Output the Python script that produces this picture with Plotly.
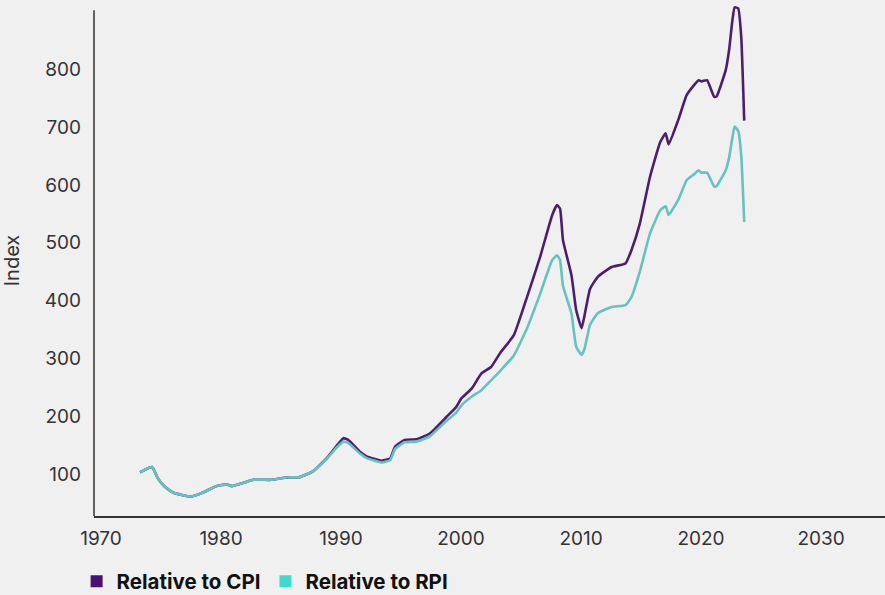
import plotly.graph_objects as go

years = [1973.25, 1974.25, 1974.75, 1975.33, 1976.0, 1977.5, 1978.5, 1979.6, 1980.5, 1980.9,
         1981.75, 1982.7, 1984.2, 1985.5, 1986.6, 1987.7, 1988.8, 1989.6, 1990.2, 1990.6,
         1991.6, 1992.1, 1993.4, 1994.1, 1994.5, 1995.3, 1996.3, 1997.4, 1998.8, 1999.6,
         2000.0, 2000.9, 2001.7, 2002.5, 2003.25, 2004.4, 2005.5, 2006.6, 2007.6, 2008.0,
         2008.25, 2008.5, 2009.2, 2009.6, 2010.05, 2010.3, 2010.75, 2011.4, 2012.55, 2013.7,
         2014.2, 2014.9, 2015.75, 2016.6, 2017.05, 2017.3, 2018.1, 2018.8, 2019.4, 2019.8,
         2020.05, 2020.5, 2021.1, 2021.3, 2022.05, 2022.35, 2022.6, 2022.8, 2023.1, 2023.35,
         2023.6]

cpi = [103, 112, 92, 78, 68, 61, 68, 79, 82, 79,
       84, 90, 90, 94, 95, 105, 127, 148, 162, 159,
       138, 131, 123, 127, 147, 159, 160, 170, 199, 216,
       230, 248, 274, 285, 309, 340, 406, 476, 548, 565,
       559, 504, 444, 383, 352, 375, 420, 441, 458, 464,
       487, 533, 614, 674, 689, 670, 712, 755, 772, 781,
       779, 781, 752, 753, 798, 835, 882, 907, 905, 856,
       711]

rpi = [103, 112, 92, 78, 68, 61, 68, 79, 82, 79,
       84, 90, 90, 94, 95, 105, 126, 145, 156, 154,
       135, 128, 120, 124, 143, 155, 156, 165, 192, 206,
       218, 234, 245, 262, 278, 305, 352, 412, 470, 478,
       470, 425, 378, 320, 306, 317, 358, 378, 389, 392,
       406, 450, 516, 556, 563, 548, 574, 608, 618, 625,
       621, 621, 597, 598, 625, 648, 680, 701, 693, 651,
       536]

series_names = ["Relative to CPI", "Relative to RPI"]
line_colors = ["#4A1F6E", "#66C2BE"]
legend_colors = ["#4B0F78", "#3DDBC9"]
x_ticks = [1970, 1980, 1990, 2000, 2010, 2020, 2030]
y_ticks = [100, 200, 300, 400, 500, 600, 700, 800]

fig = go.Figure()
for vals, name, col in zip([cpi, rpi], series_names, line_colors):
    fig.add_trace(go.Scatter(x=years, y=vals, mode="lines", name=name,
                             line=dict(color=col, width=2.6, shape="spline", smoothing=0.4),
                             showlegend=False))
for name, col in zip(series_names, legend_colors):
    fig.add_trace(go.Scatter(x=[None], y=[None], mode="markers", name=name,
                             marker=dict(symbol="square", size=12, color=col)))

y_lo, y_hi_axis, y_hi = 27.4, 902, 911

fig.add_shape(type="line", xref="paper", yref="y", x0=0, x1=0, y0=y_lo, y1=y_hi_axis,
              line=dict(color="#333333", width=1.5))

fig.update_layout(
    width=885, height=595,
    paper_bgcolor="#F0F0F0", plot_bgcolor="#F0F0F0",
    margin=dict(l=94, r=0, t=5, b=79, autoexpand=False),
    font=dict(family="Inter, Lato, sans-serif", size=19, color="#333333"),
    xaxis=dict(range=[1969.417, 2035.33], tickvals=x_ticks, showgrid=False, zeroline=False,
               showline=True, linecolor="#333333", linewidth=1.5, ticks="",
               ticklabelstandoff=4, tickfont=dict(size=19, color="#333333")),
    yaxis=dict(range=[y_lo, y_hi], tickvals=y_ticks, showgrid=False, zeroline=False,
               showline=False, ticks="", ticklabelstandoff=12,
               tickfont=dict(size=19, color="#333333"),
               title=dict(text="Index", standoff=20, font=dict(size=20, color="#333333"))),
    legend=dict(orientation="h", x=-0.022, xanchor="left", y=-0.128, yanchor="middle",
                font=dict(size=20.5, color="#111111", family="Inter, Lato, sans-serif", weight="bold"),
                itemwidth=30, bgcolor="rgba(0,0,0,0)"),
)

fig.write_html("out.html", config={"displayModeBar": False},
               post_script="document.body.style.margin='0';document.body.style.background='#F0F0F0';")
